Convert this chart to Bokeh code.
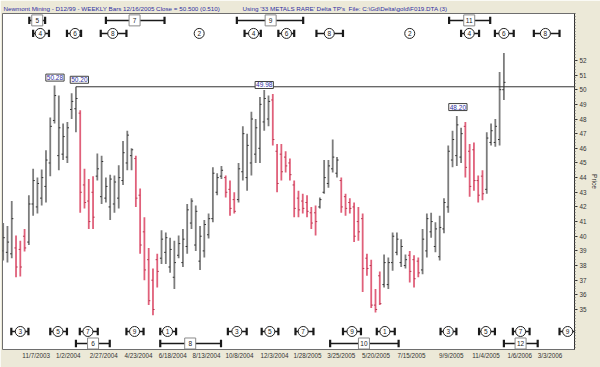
import math
from bokeh.plotting import figure
from bokeh.models import ColumnDataSource, FixedTicker, Label, Range1d
from bokeh.core.properties import value
from bokeh.embed import file_html
from bokeh.resources import INLINE

# ---------------- data (weekly bars, index 0 = 9/19/2003) ----------------
high = [40.9, 40.7, 42.4, 40.05, 39.7, 40.5, 42.8, 44.6, 44.0, 44.55,
        45.86, 48.1, 50.28, 49.6, 47.7, 47.8, 49.75, 50.2, 48.6, 44.6,
        43.9, 44.1, 45.65, 45.5, 44.0, 44.2, 44.15, 44.85, 46.5, 47.2,
        46.0, 45.5, 43.25, 41.3, 39.2, 37.8, 38.8, 40.4, 40.25, 39.9,
        39.7, 40.05, 40.5, 42.2, 42.6, 42.1, 40.7, 41.1, 41.55, 44.7,
        44.3, 44.8, 44.15, 43.8, 43.0, 45.0, 47.5, 47.0, 48.5, 48.0,
        49.5, 49.98, 49.6, 49.7, 46.3, 46.3, 45.8, 45.3, 43.8, 43.1,
        42.9, 42.8, 42.0, 42.1, 42.65, 45.2, 45.2, 46.6, 45.4, 44.0,
        42.9, 42.6, 42.3, 42.0, 41.55, 38.8, 38.4, 36.4, 37.6, 38.75,
        38.55, 40.25, 40.25, 39.8, 38.75, 39.0, 38.7, 38.55, 40.5, 41.55,
        41.6, 40.95, 41.4, 42.6, 46.2, 47.2, 48.2, 47.4, 47.8, 46.3,
        46.4, 44.15, 44.5, 47.1, 47.7, 48.0, 51.2, 52.5]
low = [38.35, 38.2, 38.5, 37.2, 37.25, 38.96, 39.4, 41.4, 41.55, 42.1,
       42.3, 44.1, 47.7, 44.5, 45.2, 45.0, 48.0, 47.1, 41.6, 41.9,
       40.5, 40.5, 43.8, 42.2, 42.3, 41.1, 41.6, 41.9, 43.5, 44.5,
       44.5, 42.0, 38.8, 37.0, 35.3, 34.6, 36.5, 38.1, 38.1, 37.5,
       36.4, 38.5, 37.9, 38.8, 40.5, 39.0, 37.7, 38.55, 39.85, 40.95,
       42.8, 43.9, 42.65, 41.4, 41.55, 42.3, 43.8, 43.1, 44.15, 45.0,
       45.0, 47.2, 47.5, 46.2, 43.0, 43.8, 44.35, 43.8, 41.3, 41.3,
       41.55, 41.3, 40.5, 40.05, 41.9, 42.9, 43.3, 44.35, 44.0, 41.6,
       41.4, 41.55, 39.6, 39.7, 36.2, 37.3, 35.1, 34.8, 35.3, 36.5,
       36.4, 37.65, 38.7, 37.9, 37.8, 36.85, 36.5, 37.2, 37.4, 38.55,
       39.9, 38.9, 38.35, 40.2, 41.6, 44.7, 44.8, 45.0, 44.0, 42.7,
       43.1, 42.3, 42.45, 42.9, 46.2, 46.1, 46.2, 49.3]
open_ = [39.0, 38.9, 38.8, 39.2, 39.1, 40.0, 39.6, 42.2, 42.0, 42.6,
         43.4, 45.0, 47.9, 45.5, 45.6, 45.4, 48.65, 48.7, 48.4, 43.5,
         42.4, 43.0, 44.1, 42.7, 42.6, 42.0, 42.2, 42.6, 43.8, 45.0,
         45.5, 45.3, 42.8, 40.3, 38.4, 37.0, 38.4, 38.5, 38.9, 37.9,
         37.2, 38.7, 38.2, 39.3, 40.9, 39.4, 38.3, 39.0, 40.1, 41.2,
         43.0, 44.1, 44.0, 43.2, 42.5, 42.5, 44.4, 44.0, 45.0, 45.6,
         46.0, 47.8, 48.0, 49.3, 45.8, 45.6, 45.4, 45.0, 43.5, 42.6,
         42.4, 42.3, 41.6, 41.6, 42.0, 43.0, 43.6, 44.6, 44.3, 43.8,
         42.7, 42.3, 42.0, 41.0, 41.2, 38.5, 38.0, 35.3, 37.3, 36.7,
         36.7, 38.2, 38.9, 38.2, 38.0, 38.7, 38.4, 38.3, 37.7, 39.0,
         40.3, 39.3, 38.6, 40.5, 42.0, 45.2, 45.5, 45.4, 47.5, 45.8,
         45.9, 43.8, 44.1, 43.2, 46.4, 46.4, 46.6, 50.0]
close = [39.9, 39.6, 41.2, 37.9, 37.9, 39.2, 42.2, 43.8, 43.6, 44.0,
         45.2, 47.5, 49.6, 47.4, 46.8, 47.4, 49.2, 49.4, 43.0, 42.3,
         41.0, 41.3, 44.6, 45.1, 43.4, 43.9, 43.7, 44.0, 45.7, 46.9,
         45.9, 42.6, 39.4, 37.7, 35.6, 35.0, 37.6, 39.8, 39.9, 39.1,
         38.2, 39.5, 39.8, 41.8, 42.4, 41.7, 40.0, 40.8, 41.2, 44.3,
         44.0, 44.5, 43.0, 41.9, 41.7, 44.6, 47.0, 46.2, 48.0, 47.4,
         49.0, 49.4, 49.2, 46.6, 43.6, 44.4, 44.8, 44.2, 41.9, 41.8,
         41.9, 41.7, 40.9, 41.0, 42.5, 44.0, 44.8, 45.4, 45.2, 42.0,
         41.9, 41.9, 40.0, 40.3, 37.8, 37.8, 35.3, 35.0, 35.4, 38.2,
         38.2, 40.0, 39.8, 39.3, 38.4, 37.6, 37.1, 37.5, 39.8, 41.2,
         41.0, 40.5, 40.6, 42.3, 45.8, 46.6, 47.6, 47.0, 44.7, 43.4,
         43.8, 42.8, 42.9, 46.7, 47.2, 47.5, 50.0, 50.5]

date_ticks = [7.7, 15.2, 23.5, 31.6, 39.6, 47.5, 55.2, 63.4, 71.1,
              79.0, 87.1, 95.4, 104.7, 112.8, 120.7, 127.8]
date_labels = ["11/7/2003", "1/2/2004", "2/27/2004", "4/23/2004",
               "6/18/2004", "8/13/2004", "10/8/2004", "12/3/2004", "1/28/2005",
               "3/25/2005", "5/20/2005", "7/15/2005", "9/9/2005", "11/4/2005",
               "1/6/2006", "3/3/2006"]
price_ticks = list(range(35, 53))

peak_bar = [12, 17, 61, 106]
peak_text = ["50.28", "50.20", "49.98", "48.20"]
resist_level = 50.20
resist_bar = 17

# Delta turning points: label, centre, range start, range end (in weeks)
top_sq_lbl = ["5", "7", "9", "11"]
top_sq_x = [7.96, 30.7, 62.5, 108.9]
top_sq_lo = [6.1, 24.0, 54.6, 104.2]
top_sq_hi = [9.8, 37.7, 70.1, 113.8]

top_ci_lbl = ["4", "6", "8", "2", "4", "6", "8", "2", "4", "6", "8"]
top_ci_x = [8.65, 16.8, 25.6, 45.8, 58.5, 66.2, 76.2, 95.0, 108.9, 117.0, 126.7]
top_ci_lo = [7.0, 14.9, 22.8, None, 56.4, 64.3, 73.2, None, 107.0, 114.9, 124.0]
top_ci_hi = [10.7, 18.2, 28.8, None, 60.2, 68.0, 79.4, None, 111.2, 119.3, 130.0]

bot_ci_lbl = ["3", "5", "7", "9", "1", "3", "5", "7", "9", "1", "3", "5", "7", "9"]
bot_ci_x = [4.0, 12.8, 19.8, 30.7, 38.4, 54.6, 62.3, 70.1, 81.5, 89.2, 104.0, 112.8, 120.9, 131.9]
bot_ci_lo = [1.9, 11.0, 17.9, 28.8, 36.7, 52.5, 60.4, 68.3, 79.4, 87.3, 102.2, 111.2, 119.1, 130.0]
bot_ci_hi = [5.9, 14.9, 22.1, 32.8, 40.4, 56.9, 64.3, 72.5, 83.6, 91.5, 105.9, 114.9, 123.0, 134.5]

bot_sq_lbl = ["6", "8", "10", "12"]
bot_sq_x = [21.0, 43.7, 84.3, 120.9]
bot_sq_lo = [17.0, 36.7, 76.4, 117.0]
bot_sq_hi = [24.9, 50.9, 92.4, 124.9]

title_main = "Newmont Mining - D12/99  - WEEKLY Bars  12/16/2005 Close = 50.500 (0.510)"
title_using = "Using '33 METALS RARE' Delta TP's"
title_file = "File: C:\\Gd\\Delta\\gold\\F019.DTA (3)"

# ---------------- figure ----------------
FONT = value("Liberation Sans")
X0, X1 = -0.16, 133.5
NB = "\u00a0"
p = figure(width=600, height=367, x_range=Range1d(X0, X1), y_range=Range1d(32.27, 55.2),
           y_axis_location="right", toolbar_location=None, output_backend="svg",
           min_border_left=2, min_border_right=22, min_border_top=13, min_border_bottom=18)
p.title.text = title_main + NB * 13 + title_using + NB * 2 + title_file
p.title.text_font_size = "6.25px"
p.title.text_font = "Liberation Sans"
p.title.text_font_style = "normal"
p.title.text_color = "#2E2EA0"
p.title.align = "left"
p.title.offset = 1
p.title.standoff = 3
p.background_fill_color = "white"
p.border_fill_color = "#ECE9D8"
p.outline_line_color = "#6E6E6E"
p.xgrid.visible = False
p.ygrid.visible = False

xa = p.xaxis[0]
xa.ticker = FixedTicker(ticks=date_ticks)
xa.major_label_overrides = {t: l for t, l in zip(date_ticks, date_labels)}
xa.axis_line_color = None
xa.major_tick_line_color = None
xa.minor_tick_line_color = None
xa.major_tick_out = 0
xa.major_tick_in = 0
xa.minor_tick_out = 0
xa.major_label_standoff = 2
xa.major_label_text_font_size = "6.3px"
xa.major_label_text_font = "Liberation Sans"
xa.major_label_text_color = "#333333"

ya = p.yaxis[0]
minor = [round(32.4 + 0.2 * k, 2) for k in range(115)]
ya.ticker = FixedTicker(ticks=price_ticks, minor_ticks=minor)
ya.axis_line_color = "#303030"
ya.major_tick_out = 3
ya.major_tick_in = 0
ya.minor_tick_out = 1
ya.minor_tick_in = 0
ya.major_tick_line_color = "#303030"
ya.minor_tick_line_color = "#606060"
ya.major_label_standoff = 2
ya.major_label_text_font_size = "6.3px"
ya.major_label_text_font = "Liberation Sans"
ya.major_label_text_color = "#333333"
ya.axis_label = "Price"
ya.axis_label_standoff = 1
ya.axis_label_text_font_size = "6.5px"
ya.axis_label_text_font = "Liberation Sans"
ya.axis_label_text_font_style = "normal"
ya.axis_label_text_color = "#333333"

# ---------------- OHLC bars ----------------
n = len(high)
xs = list(range(n))
bar_col = ["#E0607A" if c < o else "#7C7C7C" for o, c in zip(open_, close)]
tick_col = ["#B83850" if c < o else "#303030" for o, c in zip(open_, close)]
src = ColumnDataSource(dict(x=xs, h=high, l=low, o=open_, c=close,
                            xl=[x - 0.38 for x in xs], xr=[x + 0.38 for x in xs],
                            col=bar_col, tcol=tick_col))
p.segment(x0="x", y0="l", x1="x", y1="h", source=src, line_color="col", line_width=1.8)
p.segment(x0="xl", y0="o", x1="x", y1="o", source=src, line_color="tcol", line_width=1)
p.segment(x0="x", y0="c", x1="xr", y1="c", source=src, line_color="tcol", line_width=1)

# resistance line
p.segment(x0=[resist_bar], y0=[resist_level], x1=[X1], y1=[resist_level],
          line_color="#333333", line_width=1)

# peak labels
dx = [0.1, 0.8, 0.0, 0.25]
dy = [8, 7, 5, 9]
for b, t, ox, oy in zip(peak_bar, peak_text, dx, dy):
    p.add_layout(Label(x=b + ox, y=high[b], y_offset=oy, text=t, text_align="center",
                       text_baseline="middle", text_font_size="6.5px", text_font="Liberation Sans",
                       text_color="#2E2EA0", background_fill_color="white",
                       border_line_color="#404040", border_line_width=1, padding=1))

# turning point rows
ROW_TOP_SQ, ROW_TOP_CI, ROW_BOT_CI, ROW_BOT_SQ = 54.73, 53.84, 33.50, 32.68
CAP = 0.25

def tp_row(lbls, cx, lo, hi, level, marker, size, mline):
    r0 = [a for a, b in zip(lo, hi) if a is not None]
    r1 = [b for a, b in zip(lo, hi) if a is not None]
    p.segment(x0=r0, y0=[level] * len(r0), x1=r1, y1=[level] * len(r0),
              line_color="#1A1A1A", line_width=1.5)
    caps = r0 + r1
    p.segment(x0=caps, y0=[level - CAP] * len(caps), x1=caps, y1=[level + CAP] * len(caps),
              line_color="#1A1A1A", line_width=2.2)
    p.scatter(x=cx, y=[level] * len(cx), marker=marker, size=size,
              fill_color="white", line_color=mline, line_width=1)
    p.text(x=cx, y=[level] * len(cx), text=lbls, text_align="center", text_baseline="middle",
           text_font_size="6.5px", text_font=FONT, text_color="#222222")

tp_row(top_sq_lbl, top_sq_x, top_sq_lo, top_sq_hi, ROW_TOP_SQ, "square", 11, "#8A8A8A")
tp_row(top_ci_lbl, top_ci_x, top_ci_lo, top_ci_hi, ROW_TOP_CI, "circle", 10, "#222222")
tp_row(bot_ci_lbl, bot_ci_x, bot_ci_lo, bot_ci_hi, ROW_BOT_CI, "circle", 10, "#222222")
tp_row(bot_sq_lbl, bot_sq_x, bot_sq_lo, bot_sq_hi, ROW_BOT_SQ, "square", 11, "#8A8A8A")

open("out.html", "w").write(file_html(p, INLINE))
